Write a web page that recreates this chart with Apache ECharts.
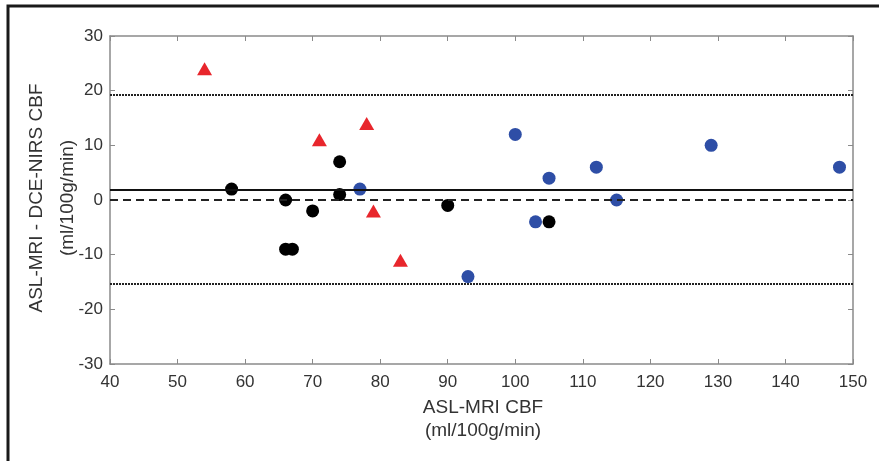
<!DOCTYPE html>
<html>
<head>
<meta charset="utf-8">
<script src="https://cdn.jsdelivr.net/npm/echarts@6/dist/echarts.min.js"></script>
<style>
  html, body { margin: 0; padding: 0; background: #fff; }
  #chart { width: 879px; height: 461px; }
</style>
</head>
<body>
<div id="chart"></div>
<script>
// 데이터
const redPoints = [[54, 24], [71, 11], [78, 14], [79, -2], [83, -11]]
const blackPoints = [[58, 2], [66, 0], [66, -9], [67, -9], [70, -2], [74, 7], [74, 1], [90, -1], [105, -4]]
const bluePoints = [[77, 2], [93, -14], [100, 12], [103, -4], [105, 4], [112, 6], [115, 0], [129, 10], [148, 6]]

// 기준선: 평균 차이, 0, 95% 한계
const meanDiff = 1.9
const upperLimit = 19.2
const lowerLimit = -15.4

const xTitle = ['ASL-MRI CBF', '(ml/100g/min)']
const yTitle = ['ASL-MRI - DCE-NIRS CBF', '(ml/100g/min)']

const chart = echarts.init(document.getElementById('chart'))

const axisGray = '#8a8a8a'
const labelColor = '#333'
const font = '"Liberation Sans", Arial, sans-serif'
const titleFont = '19px ' + font

const baseTick = { show: true, inside: true, length: 5, lineStyle: { color: axisGray } }

const option = {
  animation: false,
  grid: { left: 110, top: 36, right: 26, bottom: 97, show: false },
  graphic: [
    {
      type: 'rect',
      shape: { x: 8, y: 6, width: 900, height: 500 },
      style: { fill: 'none', stroke: '#1a1a1a', lineWidth: 3 },
      z: 0
    },
    // x축 제목
    {
      type: 'text', x: 483, y: 408,
      style: { text: xTitle[0], font: titleFont, fill: labelColor, align: 'center', verticalAlign: 'middle' }
    },
    {
      type: 'text', x: 483, y: 431,
      style: { text: xTitle[1], font: titleFont, fill: labelColor, align: 'center', verticalAlign: 'middle' }
    },
    // y축 제목 (세로)
    {
      type: 'text', x: 37, y: 198, rotation: Math.PI / 2,
      style: { text: yTitle[0], font: titleFont, fill: labelColor, align: 'center', verticalAlign: 'middle' }
    },
    {
      type: 'text', x: 68, y: 198, rotation: Math.PI / 2,
      style: { text: yTitle[1], font: titleFont, fill: labelColor, align: 'center', verticalAlign: 'middle' }
    }
  ],
  xAxis: [
    {
      type: 'value', min: 40, max: 150, interval: 10,
      axisLine: { show: true, onZero: false, lineStyle: { color: axisGray, width: 1.5 } },
      axisTick: baseTick,
      axisLabel: { color: labelColor, fontSize: 17, fontFamily: font, margin: 10 },
      splitLine: { show: false }
    },
    {
      type: 'value', min: 40, max: 150, interval: 10, position: 'top',
      axisLine: { show: true, onZero: false, lineStyle: { color: axisGray, width: 1.5 } },
      axisTick: baseTick,
      axisLabel: { show: false },
      splitLine: { show: false }
    }
  ],
  yAxis: [
    {
      type: 'value', min: -30, max: 30, interval: 10,
      axisLine: { show: true, onZero: false, lineStyle: { color: axisGray, width: 1.5 } },
      axisTick: baseTick,
      axisLabel: { color: labelColor, fontSize: 17, fontFamily: font, margin: 7 },
      splitLine: { show: false }
    },
    {
      type: 'value', min: -30, max: 30, interval: 10, position: 'right',
      axisLine: { show: true, onZero: false, lineStyle: { color: axisGray, width: 1.5 } },
      axisTick: baseTick,
      axisLabel: { show: false },
      splitLine: { show: false }
    }
  ],
  series: [
    {
      name: 'lines',
      type: 'scatter',
      data: [],
      markLine: {
        silent: true,
        symbol: 'none',
        label: { show: false },
        data: [
          { yAxis: upperLimit, lineStyle: { color: '#222', type: [2, 1], width: 2 } },
          { yAxis: lowerLimit, lineStyle: { color: '#222', type: [2, 1], width: 2 } },
          { yAxis: meanDiff, lineStyle: { color: '#111', type: 'solid', width: 2 } },
          { yAxis: 0, lineStyle: { color: '#222', type: [8, 5], width: 2 } }
        ]
      }
    },
    {
      name: 'red',
      type: 'scatter',
      symbol: 'triangle',
      symbolSize: [15, 13],
      itemStyle: { color: '#e8262c', opacity: 1 },
      data: redPoints,
      z: 3
    },
    {
      name: 'black',
      type: 'scatter',
      symbol: 'circle',
      symbolSize: 13,
      itemStyle: { color: '#000', opacity: 1 },
      data: blackPoints,
      z: 3
    },
    {
      name: 'blue',
      type: 'scatter',
      symbol: 'circle',
      symbolSize: 13,
      itemStyle: { color: '#2e4ea6', opacity: 1 },
      data: bluePoints,
      z: 3
    }
  ]
}

chart.setOption(option)
</script>
</body>
</html>
